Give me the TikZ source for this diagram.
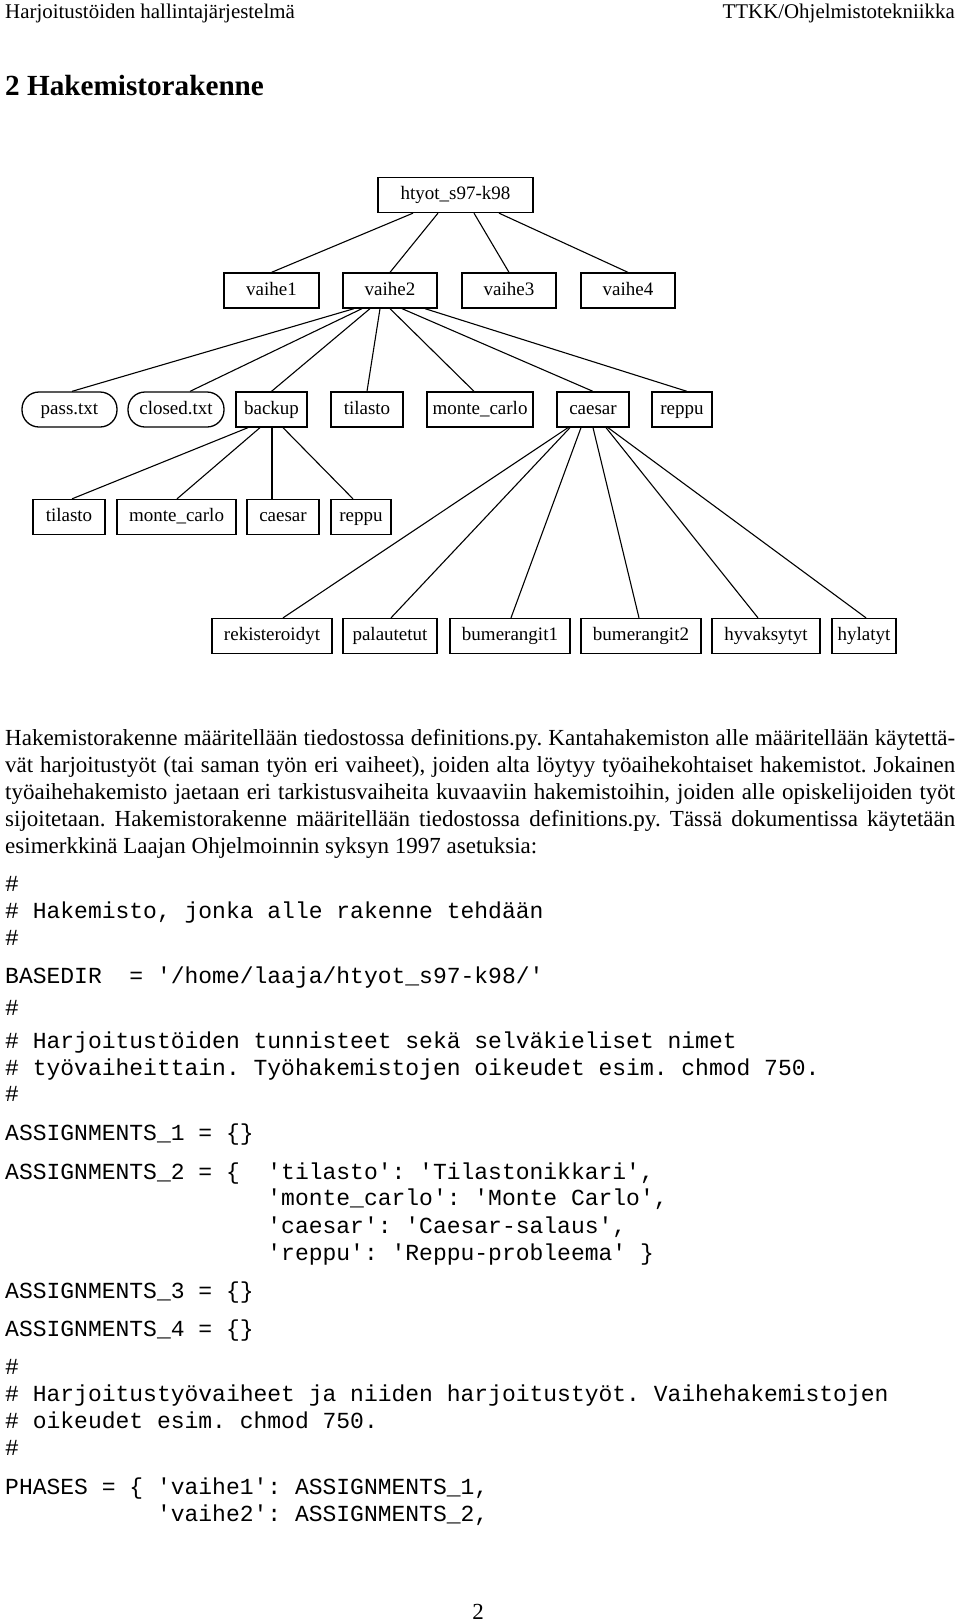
\documentclass[tikz,border=0pt]{standalone}
\usepackage{fontspec}
\setmainfont{Liberation Serif}
\setmonofont{Liberation Mono}
\frenchspacing
\newcommand\boxfont{\fontsize{19}{22}\selectfont}
\newcommand\bodyfont{\fontsize{23}{27}\selectfont}
\newcommand\codefont{\ttfamily\fontsize{23}{27}\selectfont}
\newcommand\jl[1]{\makebox[950pt][s]{#1}}
\newcommand\edg[4]{\draw[conn] ([xshift=#2pt]#1.south) -- ([xshift=#4pt]#3.north);}
\begin{document}
\begin{tikzpicture}[x=1pt,y=-1pt,
  dirbox/.style={draw, line width=1.3pt, inner sep=0pt, minimum height=35pt,
    text height=13pt, text depth=4pt, font=\boxfont},
  filebox/.style={dirbox, rounded corners=17pt},
  conn/.style={line width=1.1pt},
  plain/.style={inner sep=0pt, anchor=base west},
  body/.style={plain, font=\bodyfont},
  code/.style={plain, font=\codefont}]
\fill[white] (0,0) rectangle (960,1622);
\useasboundingbox (0,0) rectangle (960,1622);

% header
\node[plain, font=\fontsize{20.9}{24}\selectfont] (hl) at (5,18) {Harjoitustöiden hallintajärjestelmä};
\node[plain, anchor=base east, font=\fontsize{20.9}{24}\selectfont] (hr) at (955,18) {TTKK/Ohjelmistotekniikka};
\node[plain, font=\fontsize{29.2}{33}\selectfont\bfseries] (h2) at (5,95) {2 Hakemistorakenne};

% tree
\node[dirbox, minimum width=155pt] (root) at (455.5,195) {htyot\_s97-k98};
\node[dirbox, minimum width=95pt] (v1) at (271.5,290.5) {vaihe1};
\node[dirbox, minimum width=94pt] (v2) at (390,290.5) {vaihe2};
\node[dirbox, minimum width=94pt] (v3) at (509,290.5) {vaihe3};
\node[dirbox, minimum width=94pt] (v4) at (628,290.5) {vaihe4};

\node[filebox, minimum width=95pt] (pass) at (69.5,409.5) {pass.txt};
\node[filebox, minimum width=96pt] (closed) at (176,409.5) {closed.txt};
\node[dirbox, minimum width=71pt] (backup) at (271.5,409.5) {backup};
\node[dirbox, minimum width=72pt] (til3) at (367,409.5) {tilasto};
\node[dirbox, minimum width=106pt] (mon3) at (480,409.5) {monte\_carlo};
\node[dirbox, minimum width=72pt] (cae3) at (593,409.5) {caesar};
\node[dirbox, minimum width=60pt] (rep3) at (682,409.5) {reppu};

\node[dirbox, minimum width=72pt] (til4) at (69,517) {tilasto};
\node[dirbox, minimum width=119pt] (mon4) at (176.5,517) {monte\_carlo};
\node[dirbox, minimum width=72pt] (cae4) at (283,517) {caesar};
\node[dirbox, minimum width=60pt] (rep4) at (361,517) {reppu};

\node[dirbox, minimum width=120pt] (rek) at (272,636) {rekisteroidyt};
\node[dirbox, minimum width=94pt] (pal) at (390,636) {palautetut};
\node[dirbox, minimum width=120pt] (bum1) at (510,636) {bumerangit1};
\node[dirbox, minimum width=120pt] (bum2) at (641,636) {bumerangit2};
\node[dirbox, minimum width=108pt] (hyv) at (766,636) {hyvaksytyt};
\node[dirbox, minimum width=64pt] (hyl) at (864,636) {hylatyt};

\edg{root}{-42.5}{v1}{0}
\edg{root}{-17.5}{v2}{0}
\edg{root}{18.5}{v3}{0}
\edg{root}{43.5}{v4}{0}

\edg{v2}{-36}{pass}{2.5}
\edg{v2}{-28}{closed}{14}
\edg{v2}{-20}{backup}{0}
\edg{v2}{-10}{til3}{0}
\edg{v2}{0}{mon3}{-6}
\edg{v2}{12}{cae3}{0}
\edg{v2}{35}{rep3}{5}

\edg{backup}{-23.5}{til4}{3}
\edg{backup}{-11.5}{mon4}{0.5}
\edg{backup}{0.5}{cae4}{-11}
\edg{backup}{11.5}{rep4}{-8}

\edg{cae3}{-25}{rek}{11}
\edg{cae3}{-23}{pal}{1}
\edg{cae3}{-12}{bum1}{1}
\edg{cae3}{0}{bum2}{-2}
\edg{cae3}{13}{hyv}{-8}
\edg{cae3}{15}{hyl}{2}

% body text
\node[body] (t1) at (5,745) {\jl{Hakemistorakenne määritellään tiedostossa definitions.py. Kantahakemiston alle määritellään käytettä-}};
\node[body] (t2) at (5,772) {\jl{vät harjoitustyöt (tai saman työn eri vaiheet), joiden alta löytyy työaihekohtaiset hakemistot. Jokainen}};
\node[body] (t3) at (5,799) {\jl{työaihehakemisto jaetaan eri tarkistusvaiheita kuvaaviin hakemistoihin, joiden alle opiskelijoiden työt}};
\node[body] (t4) at (5,826) {\jl{sijoitetaan. Hakemistorakenne määritellään tiedostossa definitions.py. Tässä dokumentissa käytetään}};
\node[body] (t5) at (5,853) {esimerkkinä Laajan Ohjelmoinnin syksyn 1997 asetuksia:};

% code
\node[code] (c1) at (5,891.5) {\#};
\node[code] (c2) at (5,918.4) {\# Hakemisto, jonka alle rakenne tehdään};
\node[code] (c3) at (5,945.3) {\#};
\node[code] (c4) at (5,983.5) {BASEDIR\ \ = '/home/laaja/htyot\_s97-k98/'};
\node[code] (c5) at (5,1015.6) {\#};
\node[code] (c6) at (5,1048.7) {\# Harjoitustöiden tunnisteet sekä selväkieliset nimet};
\node[code] (c7) at (5,1075.6) {\# työvaiheittain. Työhakemistojen oikeudet esim. chmod 750.};
\node[code] (c8) at (5,1101.4) {\#};
\node[code] (c9) at (5,1140.7) {ASSIGNMENTS\_1 = \{\}};
\node[code] (c10) at (5,1179) {ASSIGNMENTS\_2 = \{};
\node[code] (c10b) at (267.2,1179) {'tilasto': 'Tilastonikkari',};
\node[code] (c11) at (267.2,1205.9) {'monte\_carlo': 'Monte Carlo',};
\node[code] (c12) at (267.2,1233.8) {'caesar': 'Caesar-salaus',};
\node[code] (c13) at (267.2,1260.7) {'reppu': 'Reppu-probleema' \}};
\node[code] (c14) at (5,1298.9) {ASSIGNMENTS\_3 = \{\}};
\node[code] (c15) at (5,1336.2) {ASSIGNMENTS\_4 = \{\}};
\node[code] (c16) at (5,1374.4) {\#};
\node[code] (c17) at (5,1401.3) {\# Harjoitustyövaiheet ja niiden harjoitustyöt. Vaihehakemistojen};
\node[code] (c18) at (5,1428.2) {\# oikeudet esim. chmod 750.};
\node[code] (c19) at (5,1455.1) {\#};
\node[code] (c20) at (5,1494.4) {PHASES = \{ 'vaihe1': ASSIGNMENTS\_1,};
\node[code] (c21) at (156.8,1521.3) {'vaihe2': ASSIGNMENTS\_2,};

% page number
\node[plain, anchor=base, font=\bodyfont] (pg) at (478,1619) {2};
\end{tikzpicture}
\end{document}
